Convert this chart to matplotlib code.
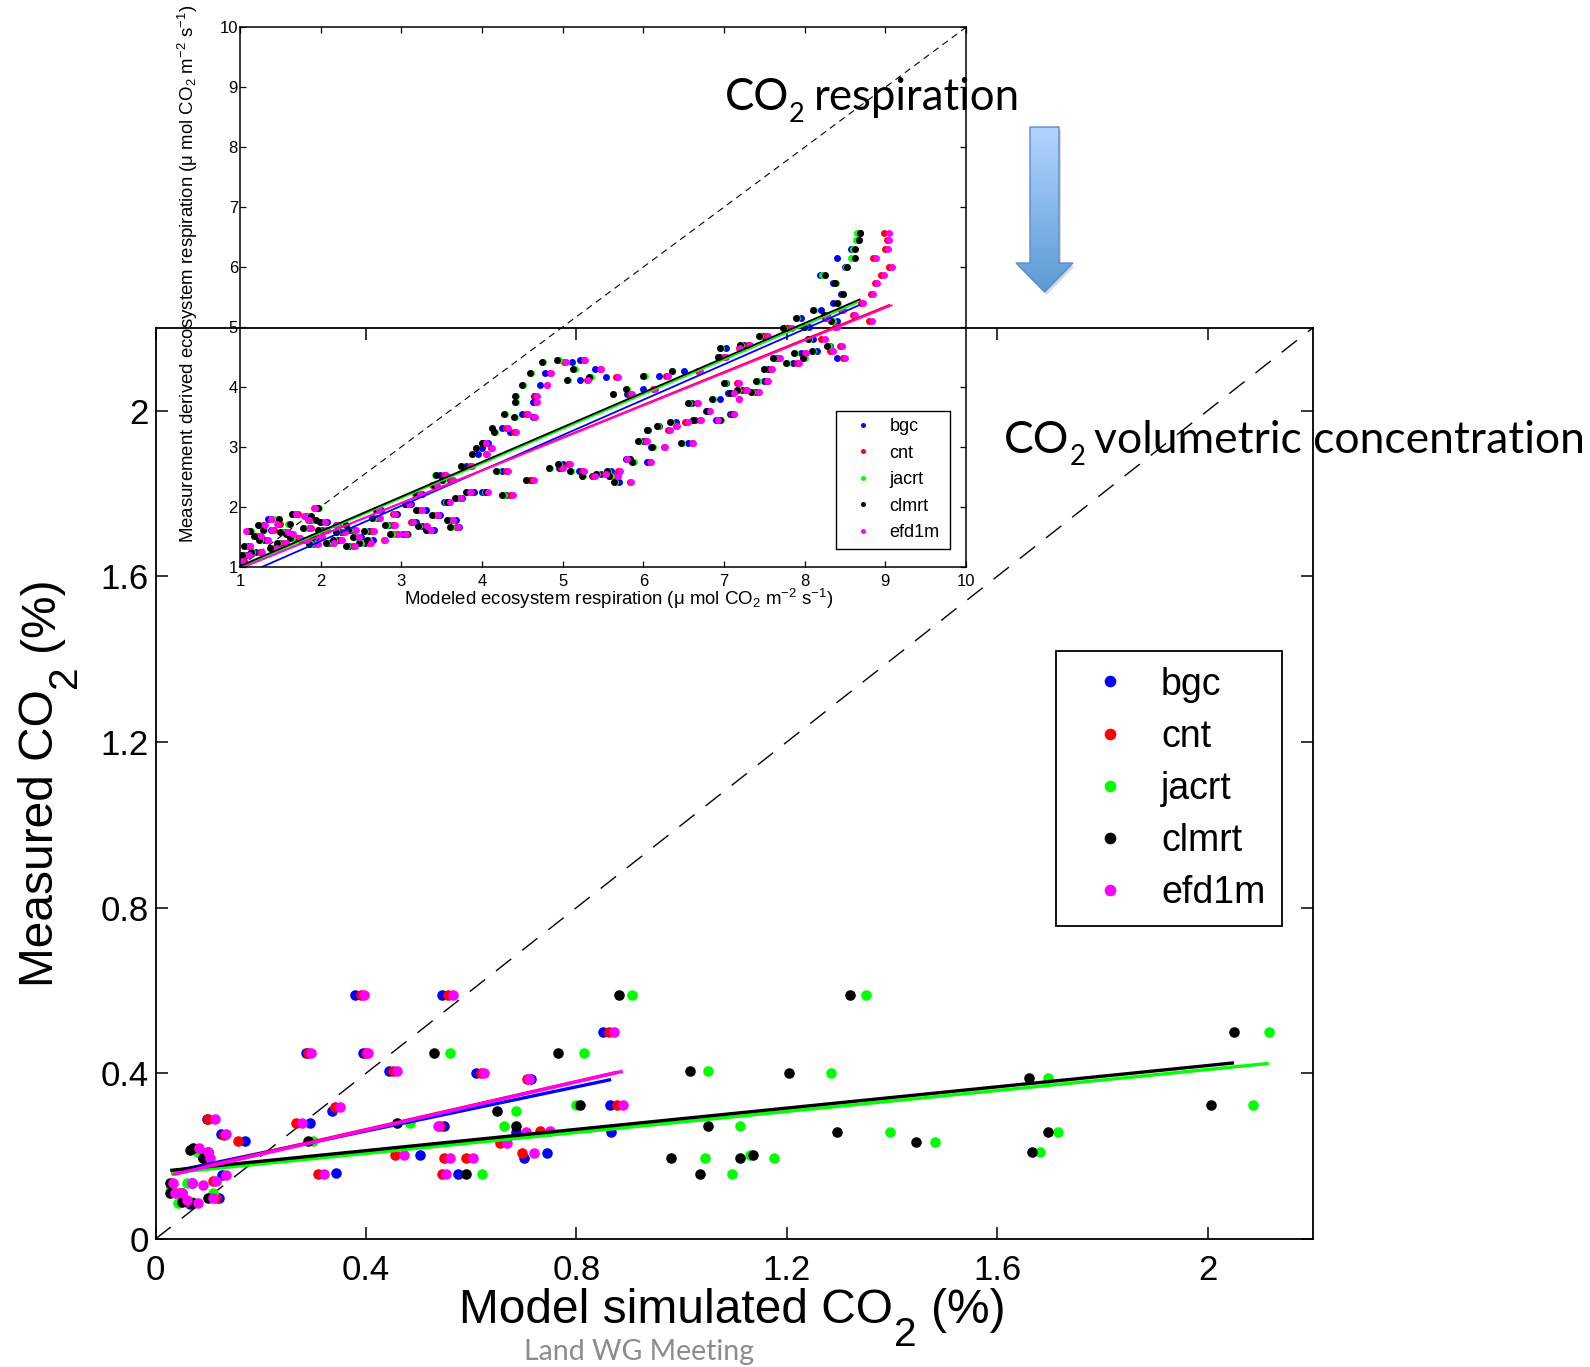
import numpy as np
import matplotlib
matplotlib.use("Agg")
import matplotlib.pyplot as plt
from matplotlib.lines import Line2D
from matplotlib.patches import Polygon
from matplotlib.transforms import IdentityTransform
from matplotlib.colors import LinearSegmentedColormap

plt.rcParams['font.family'] = ['Liberation Sans', 'DejaVu Sans']
plt.rcParams['mathtext.fontset'] = 'custom'
plt.rcParams['mathtext.rm'] = 'Liberation Sans'
plt.rcParams['mathtext.it'] = 'Liberation Sans:italic'
plt.rcParams['mathtext.bf'] = 'Liberation Sans:bold'
plt.rcParams['mathtext.default'] = 'regular'

# ---------------- data ----------------
series_names = ['bgc', 'cnt', 'jacrt', 'clmrt', 'efd1m']
series_colors = ['#0000ff', '#ff0000', '#00ff00', '#000000', '#ff00ff']

# main panel: CO2 volumetric concentration (%)
bgc_x = [0.38, 0.545, 0.85, 0.286, 0.395, 0.444, 0.61, 0.714, 0.336, 0.863, 0.294, 0.549, 0.685, 0.866,
         0.503, 0.70, 0.744, 0.344, 0.574, 0.05, 0.07, 0.12, 0.126, 0.097, 0.125, 0.17, 0.09, 0.03, 0.065, 0.10]
bgc_y = [0.588, 0.588, 0.50, 0.449, 0.449, 0.405, 0.40, 0.386, 0.31, 0.323, 0.28, 0.272, 0.259, 0.259,
         0.202, 0.195, 0.208, 0.159, 0.158, 0.11, 0.135, 0.10, 0.154, 0.29, 0.253, 0.237, 0.20, 0.13, 0.085, 0.21]
cnt_x = [0.39, 0.555, 0.862, 0.29, 0.40, 0.452, 0.618, 0.706, 0.342, 0.878, 0.267, 0.541, 0.731, 0.157,
         0.655, 0.697, 0.549, 0.59, 0.455, 0.545, 0.309, 0.11, 0.03, 0.06, 0.08, 0.10, 0.13, 0.045, 0.09, 0.115]
cnt_y = [0.588, 0.588, 0.50, 0.449, 0.449, 0.405, 0.40, 0.386, 0.318, 0.323, 0.28, 0.272, 0.26, 0.237,
         0.232, 0.208, 0.196, 0.196, 0.203, 0.158, 0.158, 0.14, 0.125, 0.09, 0.21, 0.29, 0.25, 0.11, 0.195, 0.10]
jacrt_x = [0.905, 1.35, 2.116, 0.56, 0.814, 1.05, 1.284, 1.696, 0.80, 2.086, 0.685, 0.663, 1.11, 1.396,
           1.716, 0.484, 0.30, 1.481, 1.681, 1.044, 1.176, 1.13, 0.62, 1.096, 0.043, 0.03, 0.08, 0.07,
           0.10, 0.06, 0.11]
jacrt_y = [0.588, 0.588, 0.50, 0.449, 0.449, 0.406, 0.40, 0.388, 0.323, 0.323, 0.309, 0.272, 0.272, 0.259,
           0.259, 0.279, 0.237, 0.234, 0.21, 0.196, 0.196, 0.203, 0.158, 0.158, 0.087, 0.12, 0.21, 0.09,
           0.19, 0.135, 0.11]
clmrt_x = [0.88, 1.32, 2.05, 0.529, 0.765, 1.016, 1.204, 1.661, 0.806, 2.006, 0.649, 0.685, 1.05, 1.296,
           1.696, 0.459, 0.29, 1.446, 1.665, 0.98, 1.11, 1.135, 0.59, 1.035, 0.071, 0.09, 0.028, 0.028,
           0.071, 0.05, 0.065, 0.10]
clmrt_y = [0.588, 0.588, 0.50, 0.449, 0.449, 0.406, 0.40, 0.388, 0.323, 0.323, 0.309, 0.272, 0.272, 0.259,
           0.259, 0.279, 0.237, 0.234, 0.21, 0.196, 0.196, 0.203, 0.158, 0.158, 0.22, 0.195, 0.135, 0.11,
           0.087, 0.09, 0.215, 0.10]
efd1m_x = [0.396, 0.566, 0.871, 0.295, 0.404, 0.459, 0.625, 0.71, 0.351, 0.888, 0.278, 0.536, 0.704, 0.75,
           0.669, 0.72, 0.56, 0.604, 0.473, 0.553, 0.32, 0.083, 0.104, 0.034, 0.037, 0.05, 0.081, 0.11,
           0.113, 0.134, 0.134, 0.115, 0.07, 0.06, 0.09, 0.10]
efd1m_y = [0.588, 0.588, 0.50, 0.449, 0.449, 0.405, 0.40, 0.386, 0.318, 0.323, 0.28, 0.272, 0.259, 0.26,
           0.232, 0.208, 0.196, 0.196, 0.203, 0.158, 0.158, 0.22, 0.195, 0.135, 0.11, 0.11, 0.087, 0.10,
           0.29, 0.253, 0.154, 0.14, 0.135, 0.095, 0.13, 0.21]
main_fit_slope = [0.2667, 0.290, 0.1266, 0.1284, 0.2916]
main_fit_intercept = [0.154, 0.148, 0.156, 0.162, 0.146]
main_ticks = [0, 0.4, 0.8, 1.2, 1.6, 2]
main_ticklabels = ['0', '0.4', '0.8', '1.2', '1.6', '2']

# inset: ecosystem respiration (umol CO2 m-2 s-1); measured values shared by all models
inset_measured = [
    1.10, 1.35, 1.60, 1.25, 1.45, 1.62, 1.80, 1.40, 1.72, 1.55,
    1.88, 1.45, 1.65, 1.98, 1.50, 1.75, 1.40, 1.58, 1.70, 1.35,
    1.50, 1.45, 1.82, 1.95, 1.70, 1.55, 1.75, 1.95, 2.22, 1.62,
    2.36, 2.53, 1.86, 2.08, 1.78, 1.67, 2.68, 2.25, 2.98, 3.06,
    2.25, 2.60, 2.20, 3.32, 3.25, 3.50, 3.74, 3.85, 4.03, 4.23,
    4.42, 4.45, 4.12, 4.17, 3.88, 3.96, 4.19, 4.27, 2.45, 2.64,
    2.71, 2.60, 2.51, 2.60, 2.51, 2.42, 2.80, 3.10, 3.28, 3.00,
    2.75, 3.42, 3.73, 3.45, 3.60, 3.06, 3.80, 3.90, 3.45, 3.55,
    4.07, 4.50, 4.65, 4.70, 4.85, 4.10, 3.92, 4.30, 4.48, 4.98,
    4.57, 4.80, 5.15, 4.48, 5.28, 4.68, 5.10, 5.40, 5.55, 5.73,
    5.87, 6.00, 6.15, 6.30, 6.45, 6.57,
    1.20, 1.52, 1.70, 1.32, 1.58, 1.48, 1.78, 1.38, 1.62, 1.85,
    1.45, 1.62, 1.40, 1.60, 1.55, 1.88, 2.05, 1.68, 2.45, 2.15,
    2.88, 3.55, 4.30, 2.55, 3.35, 3.95, 4.40, 5.00, 5.20, 4.60]
inset_bgc = [
    1.02, 1.10, 1.12, 1.20, 1.30, 1.38, 1.35, 1.50, 1.48, 1.62,
    1.70, 1.78, 1.85, 1.96, 1.95, 2.08, 2.10, 2.25, 2.19, 2.35,
    2.50, 2.65, 2.70, 2.75, 2.85, 3.02, 3.18, 3.30, 3.25, 3.40,
    3.42, 3.48, 3.48, 3.53, 3.68, 3.71, 3.80, 3.90, 4.00, 4.08,
    4.00, 4.25, 4.30, 4.25, 4.35, 4.63, 4.63, 4.64, 4.72, 4.78,
    5.12, 5.22, 5.22, 5.54, 5.80, 5.99, 6.20, 6.50, 4.60, 4.95,
    5.00, 5.20, 5.36, 5.60, 5.62, 5.70, 5.78, 6.00, 6.06, 6.10,
    6.05, 6.40, 6.60, 6.64, 6.78, 6.55, 6.95, 7.05, 6.90, 7.08,
    7.02, 6.95, 7.02, 7.25, 7.48, 7.50, 7.38, 7.55, 7.65, 7.78,
    7.95, 8.10, 7.95, 8.40, 8.20, 8.32, 8.40, 8.35, 8.45, 8.35,
    8.19, 8.50, 8.40, 8.58, 8.66, 8.68,
    1.08, 1.22, 1.28, 1.42, 1.55, 1.68, 1.88, 1.90, 2.02, 1.82,
    2.22, 2.38, 2.55, 2.60, 2.90, 2.95, 3.12, 3.25, 3.60, 3.75,
    3.95, 4.50, 5.40, 5.48, 6.20, 7.22, 7.85, 8.05, 8.28, 8.15]
inset_cnt = [
    1.05, 1.12, 1.10, 1.25, 1.33, 1.42, 1.40, 1.55, 1.50, 1.65,
    1.72, 1.82, 1.88, 1.92, 2.00, 2.02, 2.15, 2.28, 2.22, 2.40,
    2.45, 2.78, 2.72, 2.70, 2.90, 3.05, 3.12, 3.22, 3.20, 3.35,
    3.38, 3.53, 3.43, 3.58, 3.62, 3.68, 3.85, 3.86, 4.11, 4.02,
    4.05, 4.30, 4.35, 4.30, 4.40, 4.65, 4.67, 4.66, 4.80, 4.84,
    5.02, 5.26, 5.30, 5.66, 5.84, 6.12, 6.28, 6.68, 4.62, 4.98,
    5.07, 5.24, 5.38, 5.69, 5.66, 5.83, 5.82, 6.02, 6.30, 6.25,
    6.08, 6.52, 6.66, 6.70, 6.82, 6.60, 7.18, 7.10, 6.92, 7.10,
    7.16, 7.00, 7.18, 7.30, 7.52, 7.53, 7.42, 7.58, 7.68, 7.82,
    8.00, 8.20, 8.25, 8.48, 8.45, 8.44, 8.80, 8.70, 8.82, 8.87,
    8.95, 9.05, 8.85, 9.00, 9.02, 8.98,
    1.10, 1.24, 1.30, 1.45, 1.58, 1.72, 1.84, 1.95, 2.06, 1.80,
    2.25, 2.42, 2.60, 2.64, 2.95, 2.90, 3.08, 3.30, 3.62, 3.72,
    4.05, 4.55, 5.46, 5.52, 6.40, 7.26, 7.90, 8.38, 8.60, 8.32]
inset_jacrt = [
    1.00, 1.06, 1.14, 1.15, 1.25, 1.30, 1.45, 1.47, 1.60, 1.58,
    1.65, 1.75, 1.80, 1.98, 1.92, 2.00, 2.08, 2.20, 2.30, 2.33,
    2.42, 2.60, 2.66, 2.69, 2.82, 3.08, 3.14, 3.20, 3.17, 3.32,
    3.40, 3.42, 3.40, 3.55, 3.58, 3.62, 3.74, 3.82, 3.93, 4.00,
    4.04, 4.18, 4.27, 4.13, 4.16, 4.41, 4.42, 4.42, 4.51, 4.61,
    4.76, 4.95, 5.07, 5.35, 5.63, 5.80, 6.02, 6.36, 4.55, 4.84,
    4.95, 5.10, 5.25, 5.56, 5.60, 5.65, 5.84, 5.95, 6.05, 6.12,
    5.88, 6.34, 6.56, 6.62, 6.80, 6.48, 6.86, 7.08, 6.96, 7.12,
    7.01, 6.93, 6.96, 7.21, 7.45, 7.42, 7.35, 7.50, 7.62, 7.74,
    7.88, 8.05, 7.90, 8.00, 8.12, 8.30, 8.35, 8.41, 8.48, 8.39,
    8.22, 8.51, 8.58, 8.60, 8.64, 8.65,
    1.04, 1.18, 1.24, 1.38, 1.52, 1.64, 1.92, 1.88, 1.98, 1.86,
    2.16, 2.35, 2.50, 2.55, 2.88, 2.92, 3.05, 3.22, 3.52, 3.68,
    3.88, 4.28, 5.15, 5.42, 6.18, 7.17, 7.78, 8.00, 8.25, 8.10]
inset_clmrt = [
    1.00, 1.05, 1.13, 1.14, 1.24, 1.29, 1.48, 1.46, 1.62, 1.57,
    1.64, 1.74, 1.78, 1.97, 1.90, 1.99, 2.07, 2.19, 2.31, 2.32,
    2.40, 2.58, 2.64, 2.68, 2.80, 3.07, 3.15, 3.18, 3.18, 3.30,
    3.40, 3.43, 3.38, 3.56, 3.57, 3.60, 3.74, 3.80, 3.92, 4.00,
    4.05, 4.17, 4.25, 4.12, 4.15, 4.40, 4.41, 4.41, 4.50, 4.60,
    4.74, 4.93, 5.05, 5.33, 5.62, 5.79, 6.00, 6.35, 4.54, 4.83,
    4.94, 5.09, 5.24, 5.55, 5.58, 5.64, 5.83, 5.94, 6.04, 6.11,
    5.86, 6.33, 6.55, 6.61, 6.79, 6.47, 6.85, 7.07, 6.95, 7.11,
    7.00, 6.92, 6.95, 7.20, 7.44, 7.40, 7.34, 7.49, 7.61, 7.73,
    7.87, 8.04, 7.89, 7.98, 8.10, 8.28, 8.33, 8.40, 8.47, 8.38,
    8.25, 8.52, 8.62, 8.62, 8.67, 8.68,
    1.03, 1.17, 1.22, 1.37, 1.50, 1.62, 1.94, 1.86, 1.97, 1.88,
    2.15, 2.34, 2.48, 2.54, 2.86, 2.93, 3.04, 3.21, 3.51, 3.66,
    3.87, 4.27, 5.13, 5.41, 6.17, 7.16, 7.77, 7.99, 8.24, 8.09]
inset_efd1m = [
    1.03, 1.13, 1.08, 1.27, 1.35, 1.40, 1.38, 1.57, 1.46, 1.66,
    1.69, 1.83, 1.87, 1.93, 2.02, 2.05, 2.17, 2.30, 2.20, 2.42,
    2.47, 2.80, 2.74, 2.72, 2.92, 3.06, 3.15, 3.25, 3.23, 3.37,
    3.44, 3.55, 3.45, 3.60, 3.64, 3.70, 3.87, 3.85, 4.12, 4.05,
    4.07, 4.32, 4.38, 4.32, 4.42, 4.66, 4.68, 4.68, 4.80, 4.86,
    5.04, 5.28, 5.32, 5.69, 5.86, 6.15, 6.30, 6.70, 4.64, 5.00,
    5.09, 5.26, 5.40, 5.71, 5.68, 5.85, 5.80, 6.05, 6.33, 6.27,
    6.10, 6.55, 6.68, 6.71, 6.83, 6.62, 7.19, 7.12, 6.93, 7.12,
    7.18, 7.02, 7.20, 7.32, 7.55, 7.55, 7.43, 7.60, 7.70, 7.84,
    8.02, 8.25, 8.28, 8.50, 8.47, 8.46, 8.83, 8.72, 8.85, 8.90,
    8.98, 9.08, 8.88, 9.03, 9.05, 9.04,
    1.11, 1.26, 1.31, 1.46, 1.60, 1.74, 1.86, 1.97, 2.08, 1.79,
    2.27, 2.44, 2.62, 2.66, 2.97, 2.92, 3.10, 3.32, 3.64, 3.74,
    4.06, 4.57, 5.48, 5.54, 6.42, 7.28, 7.93, 8.40, 8.63, 8.35]
inset_fit_slope = [0.590, 0.546, 0.577, 0.579, 0.543]
inset_fit_intercept = [0.245, 0.427, 0.414, 0.432, 0.430]
inset_ticks = [1, 2, 3, 4, 5, 6, 7, 8, 9, 10]

main_series = [(bgc_x, bgc_y), (cnt_x, cnt_y), (jacrt_x, jacrt_y), (clmrt_x, clmrt_y), (efd1m_x, efd1m_y)]
inset_series = [inset_bgc, inset_cnt, inset_jacrt, inset_clmrt, inset_efd1m]

# ---------------- figure ----------------
W, H = 1590, 1367
fig = plt.figure(figsize=(W / 100, H / 100), dpi=100)


def frac_rect(left, top, right, bottom):
    return [left / W, (H - bottom) / H, (right - left) / W, (bottom - top) / H]


# main axes
ax = fig.add_axes(frac_rect(155.5, 327.7, 1313, 1239))
ax.set_xlim(0, 2.2)
ax.set_ylim(0, 2.2)
ax.plot([0, 2.2], [0, 2.2], color='black', lw=1.0, dashes=(14, 10))
for (xs, ys), c in zip(main_series, series_colors):
    ax.plot(xs, ys, 'o', ls='none', color=c, ms=7.6, mew=0)
for (xs, ys), c, m, b in zip(main_series, series_colors, main_fit_slope, main_fit_intercept):
    xr = np.array([min(xs), max(xs)])
    ax.plot(xr, m * xr + b, color=c, lw=2.4, solid_capstyle='butt')
ax.set_xticks(main_ticks)
ax.set_xticklabels(main_ticklabels)
ax.set_yticks(main_ticks)
ax.set_yticklabels(main_ticklabels)
ax.tick_params(direction='in', length=8.6, width=1.1, top=True, right=True, labelsize=25)
ax.tick_params(axis='x', pad=11)
ax.tick_params(axis='y', pad=5)
for s in ax.spines.values():
    s.set_linewidth(1.3)

handles = [Line2D([], [], marker='o', ls='none', color=c, ms=8.4, mew=0) for c in series_colors]
leg = ax.legend(handles, series_names, loc='upper left',
                bbox_to_anchor=(0.778, 0.351, 0.195, 0.294), mode='expand', borderaxespad=0,
                fontsize=27, borderpad=0.41, handlelength=2.06, handletextpad=0.33,
                labelspacing=0.43, fancybox=False, framealpha=1, edgecolor='black')
leg.get_frame().set_linewidth(1.3)

# inset axes
axi = fig.add_axes(frac_rect(240, 27.3, 966, 566.7))
axi.patch.set_alpha(0)
axi.set_xlim(1, 10)
axi.set_ylim(1, 10)
axi.plot([1, 10], [1, 10], color='black', lw=0.8, dashes=(6, 4.5))
for xs, c in zip(inset_series, series_colors):
    axi.plot(xs, inset_measured, 'o', ls='none', color=c, ms=5.0, mew=0)
for xs, c, m, b in zip(inset_series, series_colors, inset_fit_slope, inset_fit_intercept):
    xr = np.array([min(xs), max(xs)])
    axi.plot(xr, m * xr + b, color=c, lw=1.3)
axi.set_xticks(inset_ticks)
axi.set_yticks(inset_ticks)
axi.tick_params(direction='in', length=4.3, width=0.9, top=True, right=True, labelsize=12)
axi.tick_params(axis='x', pad=5)
axi.tick_params(axis='y', pad=1.5)
for s in axi.spines.values():
    s.set_linewidth(1.1)
handles_i = [Line2D([], [], marker='o', ls='none', color=c, ms=3.6, mew=0) for c in series_colors]
legi = axi.legend(handles_i, series_names, loc='upper left',
                  bbox_to_anchor=(0.821, 0.042, 0.157, 0.247), mode='expand', borderaxespad=0,
                  fontsize=13, borderpad=0.42, handlelength=2.15, handletextpad=0.4,
                  labelspacing=0.52, fancybox=False, framealpha=1, edgecolor='black')
legi.get_frame().set_linewidth(1.0)

fig.text(618.5 / W, (H - 605) / H,
         r'Modeled ecosystem respiration (μ mol CO$_2$ m$^{-2}$ s$^{-1}$)',
         fontsize=13.4, ha='center', va='baseline')
fig.text(194 / W, (H - 273.5) / H,
         r'Measurement derived ecosystem respiration (μ mol CO$_2$ m$^{-2}$ s$^{-1}$)',
         fontsize=13.4, ha='center', va='baseline', rotation=90, rotation_mode='anchor')

# ---------- composed texts with custom subscripts ----------
renderer = fig.canvas.get_renderer()


def compose(x, y_top, parts, fontsize, family, color='black', rotation=0, center=True):
    """parts: (string, size_scale, baseline_drop_em, gap_before_em)"""
    fs_px = fontsize * 100 / 72.0
    widths = []
    for s, sc, drop, gap in parts:
        t = fig.text(0, 0, s, fontsize=fontsize * sc, family=family, transform=IdentityTransform())
        widths.append(t.get_window_extent(renderer).width)
        t.remove()
    total = sum(w + g * fs_px for w, (_, _, _, g) in zip(widths, parts))
    if rotation == 0:
        cur = x - total / 2 if center else x
        yb = H - y_top
        for (s, sc, drop, gap), w in zip(parts, widths):
            cur += gap * fs_px
            fig.text(cur, yb - drop * fs_px, s, fontsize=fontsize * sc, family=family, color=color,
                     ha='left', va='baseline', transform=IdentityTransform())
            cur += w
    else:
        cur = (H - y_top) - total / 2 if center else (H - y_top)
        for (s, sc, drop, gap), w in zip(parts, widths):
            cur += gap * fs_px
            fig.text(x + drop * fs_px, cur, s, fontsize=fontsize * sc, family=family, color=color,
                     ha='left', va='baseline', rotation=90, rotation_mode='anchor',
                     transform=IdentityTransform())
            cur += w


lib = ['Liberation Sans', 'DejaVu Sans']
compose(732, 1323, [('Model simulated CO', 1, 0, 0), ('2', 0.85, 0.48, 0.02), ('(%)', 1, 0, 0.30)],
        34.5, lib)
compose(53, 782, [('Measured CO', 1, 0, 0), ('2', 0.85, 0.48, 0.02), ('(%)', 1, 0, 0.30)],
        34.5, lib, rotation=90)

lato = ['Lato', 'DejaVu Sans']
compose(725, 110, [('CO', 1, 0, 0), ('2', 0.62, 0.28, 0.0), ('respiration', 1, 0, 0.2)],
        31.5, lato, center=False)
compose(1004, 453, [('CO', 1, 0, 0), ('2', 0.62, 0.28, 0.0), ('volumetric concentration', 1, 0, 0.2)],
        32, lato, center=False)
fig.text(639 / W, (H - 1360) / H, 'Land WG Meeting', fontsize=20.5, family=lato,
         color='#8c8c8c', ha='center', va='baseline')

# ---------- gradient arrow (overlay, pixel coordinates) ----------
ov = fig.add_axes([0, 0, 1, 1])
ov.axis('off')
ov.patch.set_alpha(0)
arrow_pts = [(1030, 127), (1059, 127), (1059, 263), (1073, 263), (1044.6, 292), (1016, 263), (1030, 263)]
shadow = Polygon([(px + 2, py + 3) for px, py in arrow_pts], closed=True, facecolor='#000000',
                 alpha=0.15, edgecolor='none', zorder=-2)
ov.add_patch(shadow)
poly = Polygon(arrow_pts, closed=True, facecolor='none', edgecolor='#5b8cc8', lw=1.0, zorder=3)
ov.add_patch(poly)
grad = np.linspace(0, 1, 256).reshape(-1, 1)
cmap = LinearSegmentedColormap.from_list('arr', ['#b3d4ff', '#5b9bd5'])
im = ov.imshow(grad, cmap=cmap, extent=(1016, 1073, 292, 127), aspect='auto',
               interpolation='bilinear', zorder=1)
im.set_clip_path(poly)
ov.set_xlim(0, W)
ov.set_ylim(H, 0)

fig.savefig('out.png', dpi=100)
